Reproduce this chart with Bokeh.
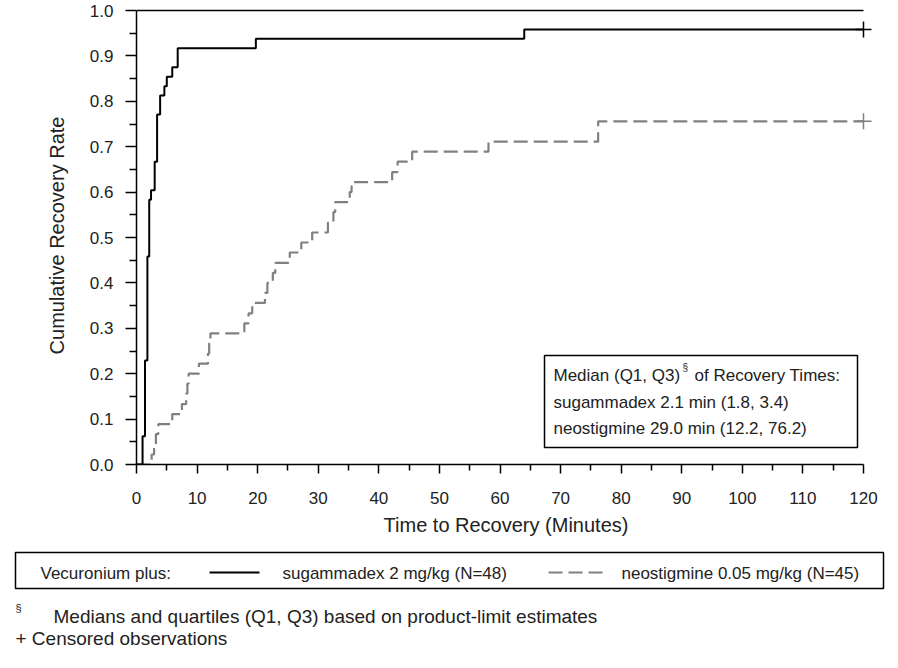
from bokeh.plotting import figure
from bokeh.layouts import column
from bokeh.models import (Range1d, FixedTicker, PrintfTickFormatter, BoxAnnotation, Label)
from bokeh.core.properties import value
from bokeh.embed import file_html
from bokeh.resources import INLINE

# ---------------- data ----------------
sug_times = [1.0, 1.4, 1.8, 2.1, 2.4, 3.0, 3.4, 3.9, 4.6, 5.0, 5.9, 6.8, 19.7, 64.0]
sug_rates = [0.0625, 0.229, 0.458, 0.583, 0.604, 0.667, 0.771, 0.813, 0.833,
             0.854, 0.875, 0.917, 0.938, 0.958]
sug_censor_time = [120.0]
sug_censor_rate = [0.958]

neo_times = [2.5, 2.9, 3.2, 3.6, 5.9, 7.5, 8.2, 8.4, 8.6, 10.3, 11.8, 12.0, 12.2,
             17.8, 18.5, 19.1, 21.2, 21.6, 22.5, 22.9, 25.3, 27.2, 29.0, 31.6,
             32.5, 32.8, 35.2, 35.5, 42.2, 43.1, 45.5, 58.1, 76.2]
neo_rates = [0.022, 0.044, 0.067, 0.089, 0.111, 0.133, 0.156, 0.178, 0.2, 0.222,
             0.244, 0.267, 0.289, 0.311, 0.333, 0.356, 0.378, 0.4, 0.422, 0.444,
             0.467, 0.489, 0.511, 0.533, 0.556, 0.578, 0.6, 0.622, 0.644, 0.667,
             0.689, 0.711, 0.756]
neo_censor_time = [120.0]
neo_censor_rate = [0.756]

x_ticks = [0, 10, 20, 30, 40, 50, 60, 70, 80, 90, 100, 110, 120]
x_minor = [5, 15, 25, 35, 45, 55, 65, 75, 85, 95, 105, 115]
y_ticks = [0.0, 0.1, 0.2, 0.3, 0.4, 0.5, 0.6, 0.7, 0.8, 0.9, 1.0]
y_minor = [0.05, 0.15, 0.25, 0.35, 0.45, 0.55, 0.65, 0.75, 0.85, 0.95]

x_title = "Time to Recovery (Minutes)"
y_title = "Cumulative Recovery Rate"
legend_title = "Vecuronium plus:"
sug_label = "sugammadex 2 mg/kg (N=48)"
neo_label = "neostigmine 0.05 mg/kg (N=45)"
box_head = ["Median (Q1, Q3)", "§", "of Recovery Times:"]
box_lines = ["sugammadex 2.1 min (1.8, 3.4)", "neostigmine 29.0 min (12.2, 76.2)"]
foot_mark = "§"
foot_lines = ["Medians and quartiles (Q1, Q3) based on product-limit estimates",
              "+ Censored observations"]

FONT = "Liberation Sans"
TXT = "#222222"
GRAY = "#808080"

# ---------------- layout geometry (pixels) ----------------
W = 898
H1 = 548
H2 = 120
LEFT, RIGHT, TOP = 136, 23, 6
X_PX = 727.0          # pixels spanned by 0..120 min
Y_PX = 454.0          # pixels spanned by 0..1
frame_w = W - LEFT - RIGHT
x_end = x_ticks[-1] * frame_w / X_PX
y_end = y_ticks[-1] + 4 / Y_PX

# ---------------- main figure ----------------
p = figure(width=W, height=H1, output_backend="svg", toolbar_location=None,
           x_range=Range1d(0, x_end), y_range=Range1d(0, y_end),
           min_border_left=LEFT, min_border_right=RIGHT, min_border_top=TOP,
           min_border_bottom=H1 - TOP - 4 - int(Y_PX))
p.outline_line_color = None
p.xgrid.visible = False
p.ygrid.visible = False
p.background_fill_color = "white"
p.border_fill_color = "white"

sx = [0.0] + sug_times + sug_censor_time
sy = [0.0] + sug_rates + sug_censor_rate
nx = [0.0] + neo_times + neo_censor_time
ny = [0.0] + neo_rates + neo_censor_rate
p.step(nx, ny, mode="after", line_color=GRAY, line_width=2.2, line_dash="14 6")
p.step(sx, sy, mode="after", line_color="black", line_width=2.0)
p.scatter(sug_censor_time, sug_censor_rate, marker="cross", size=16,
          line_color="black", line_width=1.5)
p.scatter(neo_censor_time, neo_censor_rate, marker="cross", size=16,
          line_color=GRAY, line_width=1.5)

# top boundary line at 1.0 spanning the axis extent
p.segment(x0=[x_ticks[0]], x1=[x_ticks[-1]], y0=[y_ticks[-1]], y1=[y_ticks[-1]],
          line_color="black", line_width=1.5)

for ax in (p.xaxis[0], p.yaxis[0]):
    ax.axis_line_color = "black"
    ax.axis_line_width = 1.5
    ax.major_tick_line_color = "black"
    ax.minor_tick_line_color = "black"
    ax.major_tick_line_width = 1.5
    ax.minor_tick_line_width = 1.5
    ax.major_tick_in = 0
    ax.minor_tick_in = 0
    ax.major_label_text_font = FONT
    ax.major_label_text_font_size = "17px"
    ax.major_label_text_color = TXT
    ax.axis_label_text_font = FONT
    ax.axis_label_text_font_size = "20px"
    ax.axis_label_text_font_style = "normal"
    ax.axis_label_text_color = TXT

p.xaxis.bounds = (x_ticks[0], x_ticks[-1])
p.yaxis.bounds = (y_ticks[0], y_ticks[-1])
p.xaxis.ticker = FixedTicker(ticks=x_ticks, minor_ticks=x_minor)
p.yaxis.ticker = FixedTicker(ticks=y_ticks, minor_ticks=y_minor)
p.xaxis.formatter = PrintfTickFormatter(format="%d")
p.yaxis.formatter = PrintfTickFormatter(format="%.1f")
p.xaxis.major_tick_out = 9
p.xaxis.minor_tick_out = 6
p.yaxis.major_tick_out = 11
p.yaxis.minor_tick_out = 7
p.xaxis.major_label_standoff = 18
p.yaxis.major_label_standoff = 12
p.xaxis.axis_label = x_title
p.yaxis.axis_label = y_title
p.xaxis.axis_label_standoff = 7
p.yaxis.axis_label_standoff = 19


def lab(x, y, text, size="17px"):
    p.add_layout(Label(x=x, y=y, x_units="screen", y_units="screen", text=text,
                       text_font=FONT, text_font_size=size, text_align="left",
                       text_baseline="middle", text_color=TXT))


# annotation box (screen units relative to the frame's bottom-left corner)
p.add_layout(BoxAnnotation(left=408, right=721, top=109, bottom=17,
                           left_units="screen", right_units="screen",
                           top_units="screen", bottom_units="screen",
                           fill_color="white", fill_alpha=1.0,
                           line_color="black", line_width=1.5, line_alpha=1.0))
lab(417, 89, box_head[0])
lab(546, 97, box_head[1], size="10px")
lab(558, 89, box_head[2])
lab(417, 62, box_lines[0])
lab(417, 36, box_lines[1])

# ---------------- bottom figure: legend box and footnotes ----------------
q = figure(width=W, height=H2, output_backend="svg", toolbar_location=None,
           x_range=Range1d(0, W), y_range=Range1d(0, H2),
           x_axis_type=None, y_axis_type=None, frame_align=False,
           min_border_left=0, min_border_right=0, min_border_top=0, min_border_bottom=0)
q.outline_line_color = None
q.xgrid.visible = False
q.ygrid.visible = False
q.background_fill_color = "white"
q.border_fill_color = "white"

q.quad(left=[15], right=[883], top=[116], bottom=[80], fill_color=None,
       line_color="black", line_width=1.5)
q.segment(x0=[209], x1=[259], y0=[96], y1=[96], line_color="black", line_width=2.0)
q.segment(x0=[548], x1=[603], y0=[96], y1=[96], line_color=GRAY, line_width=2.2,
          line_dash="14 6")
q.text(x=[40, 282, 621], y=[95, 95, 95], text=[legend_title, sug_label, neo_label],
       text_font=value(FONT), text_font_size=value("17px"), text_color=TXT,
       text_baseline="middle", text_align="left")
q.text(x=[15], y=[61], text=[foot_mark], text_font=value(FONT),
       text_font_size=value("11px"), text_color=TXT, text_baseline="middle")
q.text(x=[53, 15], y=[52, 30], text=foot_lines, text_font=value(FONT),
       text_font_size=value("19px"), text_color=TXT, text_baseline="middle")

layout = column(p, q, spacing=0)
open("out.html", "w").write(file_html(layout, INLINE))
